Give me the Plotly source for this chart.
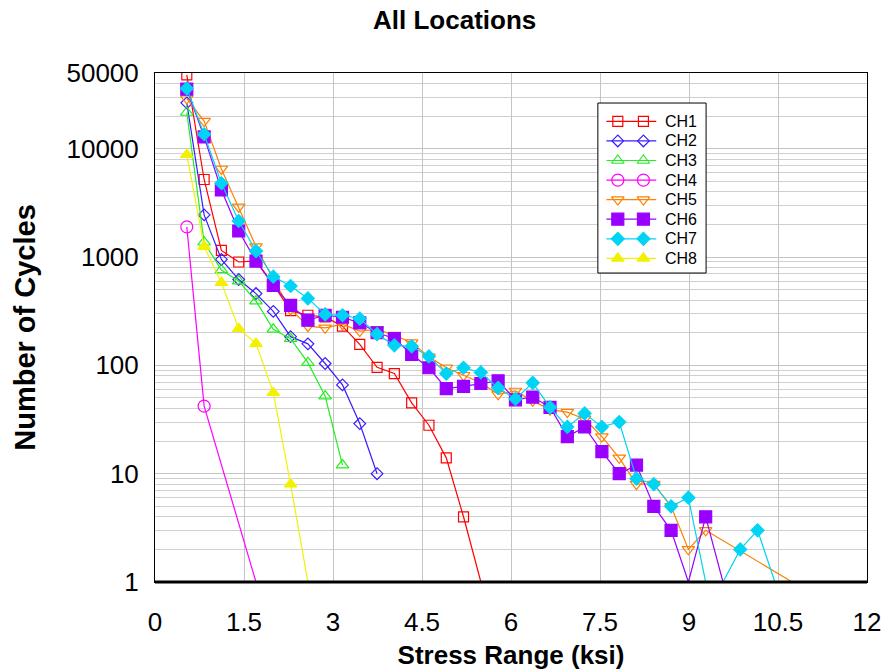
import plotly.graph_objects as go

# Stress-range bin values (ksi) shared by every channel
stress = [0.536, 0.828, 1.119, 1.411, 1.702, 1.994, 2.285, 2.577, 2.868, 3.160,
          3.451, 3.743, 4.034, 4.326, 4.617, 4.909, 5.200, 5.492, 5.783, 6.075,
          6.366, 6.658, 6.949, 7.241, 7.532, 7.824, 8.115, 8.407, 8.698, 8.990,
          9.281, 9.573, 9.864, 10.156, 10.447, 10.739]

# Cycle counts per bin (None = empty bin, 0 = no cycles)
ch1 = [48000, 5200, 1150, 900, 920, 560, 320, 290, 280, 230, 156, 96, 84, 45, 28, 14, 4, 0]
ch2 = [26500, 2450, 950, 620, 460, 315, 184, 158, 104, 66, 29, 10]
ch3 = [21600, 1370, 760, 600, 392, 215, 176, 106, 52, 12]
ch4 = [1900, 42, None, None, 0]
ch5 = [29000, 18000, 6500, 2900, 1250, 620, 330, 230, 222, 240, 207, 215, 190, 162,
       120, 95, 81, 69, 54, 58, 47, 39, 37, 32, 22, 14, 8, 8, 5, 2, 3,
       None, None, None, None, 0]
ch6 = [35500, 12850, 4160, 1740, 918, 547, 358, 262, 290, 278, 247, 200, 177, 126,
       95, 61, 64, 68, 72, 48, 51, 41, 22, 27, 16, 10, 12, 5, 3, 0, 4, 0]
ch7 = [36000, 13600, 4800, 2150, 1136, 659, 540, 415, 295, 290, 270, 194, 153, 150,
       121, 84, 95, 86, 62, 49, 69, 41, 27, 36, 27, 30, 9, 8, 5, 6, 0, 0, 2, 3, 0]
ch8 = [8800, 1250, 580, 218, 159, 56, 8, 0]

names = ["CH1", "CH2", "CH3", "CH4", "CH5", "CH6", "CH7", "CH8"]
series = [ch1, ch2, ch3, ch4, ch5, ch6, ch7, ch8]
colors = ["#ff0000", "#3a1cff", "#22ee22", "#ff00ff", "#ff8000", "#9900ff", "#00d4f5", "#f2f200"]
symbols = ["square-open", "diamond-open", "triangle-up-open", "circle-open",
           "triangle-down-open", "square", "diamond", "triangle-up"]
sizes = [10, 9, 11, 12, 11, 12, 10, 11]

x_ticks = [0, 1.5, 3, 4.5, 6, 7.5, 9, 10.5, 12]
y_ticks = [1, 10, 100, 1000, 10000, 50000]
y_minor = [m * d for d in (1, 10, 100, 1000) for m in range(2, 10)] + [20000, 30000, 40000]

Y_FLOOR = 1  # bottom of the log axis; empty-count bins drop to it
LINE_W = 1.2

fig = go.Figure()
for name, vals, col, sym, sz in zip(names, series, colors, symbols, sizes):
    pts = [(x, v) for x, v in zip(stress, vals) if v is not None]
    # connecting line, zero counts drawn down to the axis floor
    fig.add_trace(go.Scatter(
        x=[p[0] for p in pts], y=[p[1] if p[1] > 0 else Y_FLOOR for p in pts],
        mode="lines", line=dict(color=col, width=LINE_W),
        showlegend=False, hoverinfo="skip"))
    # markers only where cycles were counted
    nz = [p for p in pts if p[1] > 0]
    fig.add_trace(go.Scatter(
        x=[p[0] for p in nz], y=[p[1] for p in nz], mode="markers", name=name,
        marker=dict(symbol=sym, size=sz, color=col, line=dict(color=col, width=LINE_W)),
        showlegend=False))

# Legend panel on an overlay axis whose 0..1 range spans the plot area
box_x0, box_x1, box_top, box_bot = 0.622, 0.774, 0.941, 0.607
row_top, row_step = 0.905, 0.03845
samp_x0, samp_x1 = 0.634, 0.704
mark_xa, mark_xb = 0.650, 0.686
text_x = 0.713

fig.add_trace(go.Scatter(
    x=[box_x0, box_x1, box_x1, box_x0, box_x0],
    y=[box_bot, box_bot, box_top, box_top, box_bot],
    mode="lines", fill="toself", fillcolor="white", xaxis="x2", yaxis="y2",
    line=dict(color="black", width=1), showlegend=False, hoverinfo="skip"))
for k, (name, col, sym, sz) in enumerate(zip(names, colors, symbols, sizes)):
    ry = row_top - k * row_step
    fig.add_trace(go.Scatter(
        x=[samp_x0, samp_x1], y=[ry, ry], mode="lines", xaxis="x2", yaxis="y2",
        line=dict(color=col, width=LINE_W), showlegend=False, hoverinfo="skip"))
    fig.add_trace(go.Scatter(
        x=[mark_xa, mark_xb], y=[ry, ry], mode="markers", xaxis="x2", yaxis="y2",
        marker=dict(symbol=sym, size=sz, color=col, line=dict(color=col, width=LINE_W)),
        showlegend=False, hoverinfo="skip"))
    fig.add_annotation(x=text_x, y=ry, xref="x domain", yref="y domain", text=name,
                       showarrow=False, xanchor="left", yanchor="middle",
                       font=dict(size=16, color="black"))

font_family = "Liberation Sans, Arial, sans-serif"

fig.update_layout(
    width=888, height=670,
    margin=dict(l=155, r=21, t=73, b=88, autoexpand=False),
    paper_bgcolor="white", plot_bgcolor="white",
    font=dict(family=font_family, color="black"),
    title=dict(text="<b>All Locations</b>", x=0.512, xanchor="center", y=0.97,
               yanchor="middle", font=dict(size=26, family=font_family)),
    showlegend=False,
    xaxis=dict(
        range=[0, 12], tickmode="array", tickvals=x_ticks,
        ticktext=[f"{t:g}" for t in x_ticks], automargin=False,
        tickfont=dict(size=26), ticks="outside", ticklen=17, tickcolor="rgba(0,0,0,0)",
        showgrid=True, gridcolor="#c4c4c4", gridwidth=1,
        showline=True, linecolor="black", linewidth=1, mirror=True, zeroline=False,
        title=dict(text="<b>Stress Range (ksi)</b>", font=dict(size=26), standoff=12),
    ),
    yaxis=dict(
        type="log", range=[0, 4.69897], tickmode="array", tickvals=y_ticks,
        ticktext=[str(t) for t in y_ticks], automargin=False,
        tickfont=dict(size=26), ticks="outside", ticklen=10, tickcolor="rgba(0,0,0,0)",
        showgrid=True, gridcolor="#c4c4c4", gridwidth=1,
        minor=dict(tickmode="array", tickvals=y_minor, showgrid=True,
                   gridcolor="#d0d0d0", gridwidth=1, ticks=""),
        showline=True, linecolor="black", linewidth=1, mirror=True, zeroline=False,
        title=dict(text="<b>Number of Cycles</b>", font=dict(size=29), standoff=22),
    ),
    xaxis2=dict(overlaying="x", range=[0, 1], visible=False, anchor="y2",
                fixedrange=True, automargin=False),
    yaxis2=dict(overlaying="y", range=[0, 1], visible=False, anchor="x2",
                fixedrange=True, automargin=False),
)

# heavier baseline along the bottom of the plot area
fig.add_shape(type="line", xref="paper", yref="paper", x0=0, x1=1, y0=0, y1=0,
              line=dict(color="black", width=3))

fig.write_html("out.html")
